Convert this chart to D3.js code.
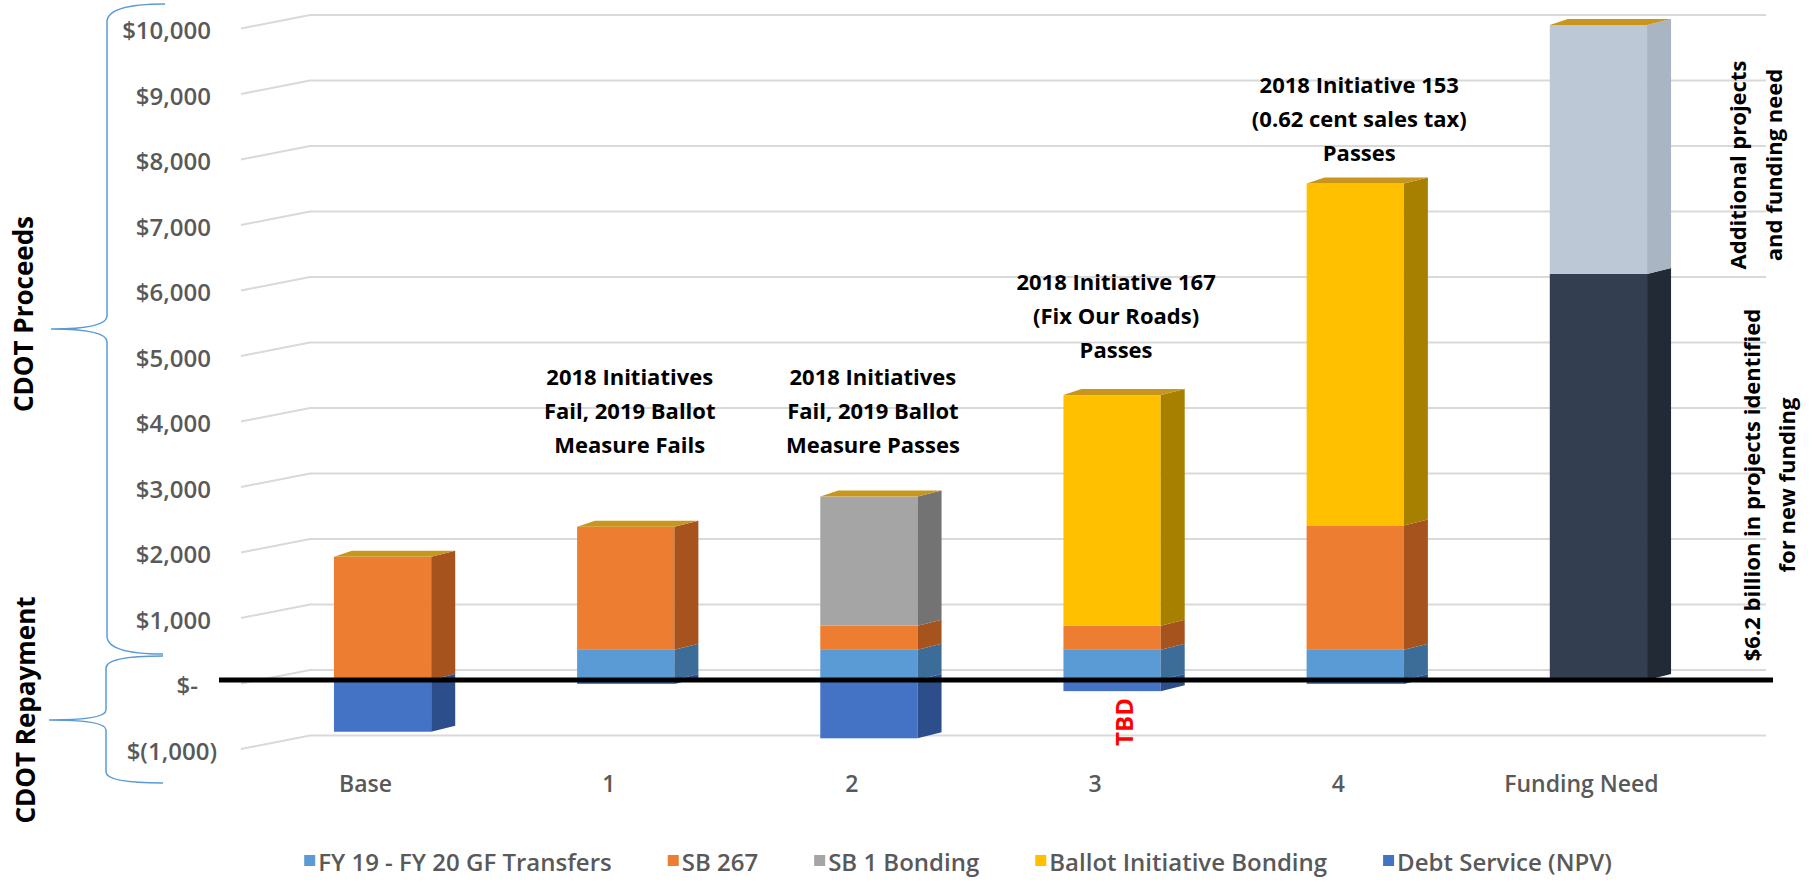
<!DOCTYPE html>
<html>
<head>
<meta charset="utf-8">
<script src="https://cdn.jsdelivr.net/npm/d3@7"></script>
<style>
  body { margin: 0; background: #fff; }
  text { font-family: "Open Sans", "Noto Sans", sans-serif; }
</style>
</head>
<body>
<svg id="chart" width="1816" height="883"></svg>
<script>
// ---- data (values in $ millions) ----
const categories = ['Base', '1', '2', '3', '4', 'Funding Need'];
const gfTransfers        = [0, 460, 460, 460, 460, 0];
const sb267              = [1880, 1880, 370, 370, 1900, 0];
const sb1Bonding         = [0, 0, 1970, 0, 0, 0];
const ballotBonding      = [0, 0, 0, 3520, 5220, 0];
const debtService        = [-790, -60, -890, -170, -60, 0];
const projectsIdentified = [0, 0, 0, 0, 0, 6200];
const additionalNeed     = [0, 0, 0, 0, 0, 3800];
const yTicks = [-1000, 0, 1000, 2000, 3000, 4000, 5000, 6000, 7000, 8000, 9000, 10000];

const legendNames = ['FY 19 - FY 20 GF Transfers', 'SB 267', 'SB 1 Bonding', 'Ballot Initiative Bonding', 'Debt Service (NPV)'];
const scenarioNotes = [
  { cat: '1', lines: ['2018 Initiatives', 'Fail, 2019 Ballot', 'Measure Fails'], top: 376 },
  { cat: '2', lines: ['2018 Initiatives', 'Fail, 2019 Ballot', 'Measure Passes'], top: 376 },
  { cat: '3', lines: ['2018 Initiative 167', '(Fix Our Roads)', 'Passes'], top: 281 },
  { cat: '4', lines: ['2018 Initiative 153', '(0.62 cent sales tax)', 'Passes'], top: 84 }
];

const series = [
  { key: 'gf',         values: gfTransfers,        front: '#5B9BD5', side: '#3C6D99' },
  { key: 'sb267',      values: sb267,              front: '#ED7D31', side: '#A7531E' },
  { key: 'sb1',        values: sb1Bonding,         front: '#A5A5A5', side: '#737373' },
  { key: 'ballot',     values: ballotBonding,      front: '#FFC000', side: '#A88000' },
  { key: 'debt',       values: debtService,        front: '#4472C4', side: '#2C4E8A' },
  { key: 'identified', values: projectsIdentified, front: '#333F50', side: '#222A35' },
  { key: 'additional', values: additionalNeed,     front: '#BCC8D6', side: '#AAB5C3' }
];
const topColor = '#C8961C';

// ---- layout ----
const svg = d3.select('#chart');
const depthX = 24, depthY = -6;

const x = d3.scaleBand()
  .domain(categories)
  .range([261, 1720])
  .paddingInner(0.6)
  .paddingOuter(0.3);

const y = d3.scaleLinear()
  .domain([-1000, 10000])
  .range([745.5, 25]);

// gridlines drawn as a side wall + back wall line
const grid = svg.append('g');
grid.selectAll('path')
  .data(yTicks)
  .enter().append('path')
  .attr('d', d => `M241,${y(d) + 3.5}L310,${y(d) - 10}L1766,${y(d) - 10}`)
  .attr('fill', 'none')
  .attr('stroke', '#d9d9d9')
  .attr('stroke-width', 2);

// stacked data
const table = categories.map((c, i) => {
  const row = { cat: c };
  series.forEach(s => { row[s.key] = s.values[i]; });
  return row;
});
const stacked = d3.stack()
  .keys(series.map(s => s.key))
  .offset(d3.stackOffsetDiverging)(table);

const bars = svg.append('g');
categories.forEach((c, i) => {
  const x0 = x(c), x1 = x(c) + x.bandwidth();
  const g = bars.append('g');
  let topVal = 0;
  stacked.forEach((layer, si) => {
    const [v0, v1] = layer[i];
    if (v0 === v1) return;
    const s = series[si];
    const yt = y(Math.max(v0, v1)), yb = y(Math.min(v0, v1));
    topVal = Math.max(topVal, v0, v1);
    g.append('rect')
      .attr('x', x0).attr('y', yt)
      .attr('width', x1 - x0).attr('height', yb - yt)
      .attr('fill', s.front);
    g.append('path')
      .attr('d', `M${x1},${yt}L${x1 + depthX},${yt + depthY}L${x1 + depthX},${yb + depthY}L${x1},${yb}Z`)
      .attr('fill', s.side);
  });
  const yt = y(topVal);
  g.append('path')
    .attr('d', `M${x0},${yt}L${x0 + 18},${yt + depthY}L${x1 + depthX},${yt + depthY}L${x1},${yt}Z`)
    .attr('fill', topColor);
});

// zero line
svg.append('line')
  .attr('x1', 219).attr('x2', 1773)
  .attr('y1', y(0)).attr('y2', y(0))
  .attr('stroke', '#000')
  .attr('stroke-width', 5);

// y axis
const fmtMoney = v => v === 0 ? '$-' : v < 0 ? '$(' + d3.format(',')(-v) + ')' : '$' + d3.format(',')(v);
const yAxisG = svg.append('g')
  .attr('transform', 'translate(211,6)')
  .call(d3.axisLeft(y).tickValues(yTicks).tickSize(0).tickPadding(0).tickFormat(fmtMoney));
yAxisG.select('.domain').remove();
yAxisG.selectAll('text')
  .style('font-size', '24px')
  .style('font-weight', 600)
  .attr('fill', '#595959')
  .attr('dx', d => d === 0 ? -13 : d < 0 ? 6 : 0);

// x axis
const xAxisG = svg.append('g')
  .attr('transform', 'translate(-17,776)')
  .call(d3.axisBottom(x).tickSize(0).tickPadding(0));
xAxisG.select('.domain').remove();
xAxisG.selectAll('text')
  .style('font-size', '23px')
  .style('font-weight', 600)
  .attr('fill', '#595959');

// scenario notes
const notes = svg.append('g');
scenarioNotes.forEach(n => {
  n.lines.forEach((line, li) => {
    notes.append('text')
      .attr('x', x(n.cat) + x.bandwidth() / 2 + 4)
      .attr('y', n.top + li * 34)
      .attr('text-anchor', 'middle')
      .attr('dominant-baseline', 'central')
      .style('font-size', '22px')
      .style('font-weight', 700)
      .attr('fill', '#000')
      .text(line);
  });
});

// rotated labels
function vText(cx, cy, str, size, color) {
  svg.append('text')
    .attr('transform', `translate(${cx},${cy}) rotate(-90)`)
    .attr('text-anchor', 'middle')
    .attr('dominant-baseline', 'central')
    .style('font-size', size + 'px')
    .style('font-weight', 700)
    .attr('fill', color)
    .text(str);
}
vText(23, 314, 'CDOT Proceeds', 26, '#000');
vText(25, 710, 'CDOT Repayment', 26, '#000');
vText(1737, 165, 'Additional projects', 22, '#000');
vText(1773, 165, 'and funding need', 22, '#000');
vText(1751, 485, '$6.2 billion in projects identified', 22, '#000');
vText(1786, 485, 'for new funding', 22, '#000');
vText(1123, 722, 'TBD', 24, '#FF0000');

// braces
const braces = svg.append('g')
  .attr('fill', 'none')
  .attr('stroke', '#5B9BD5')
  .attr('stroke-width', 1.5);
braces.append('path')
  .attr('d', 'M165,4 Q107,4 107,22 L107,316 Q107,329 51,329 Q107,329 107,342 L107,636 Q107,654 163,654');
braces.append('path')
  .attr('d', 'M163,656 Q106,656 106,668 L106,710 Q106,720 49,720 Q106,720 106,730 L106,772 Q106,783 163,783');

// legend
const legend = svg.append('g');
let lx = 0;
legendNames.forEach((name, i) => {
  const item = legend.append('g').attr('transform', `translate(${lx},0)`);
  item.append('rect')
    .attr('x', 0).attr('y', -6)
    .attr('width', 11).attr('height', 11)
    .attr('fill', series[i].front);
  const t = item.append('text')
    .attr('x', 14)
    .attr('dominant-baseline', 'central')
    .style('font-size', '24px')
    .style('font-weight', 600)
    .attr('fill', '#595959')
    .text(name);
  lx += 14 + t.node().getComputedTextLength() + 56;
});
const legendW = lx - 56;
legend.attr('transform', `translate(${958 - legendW / 2},861)`);
</script>
</body>
</html>
